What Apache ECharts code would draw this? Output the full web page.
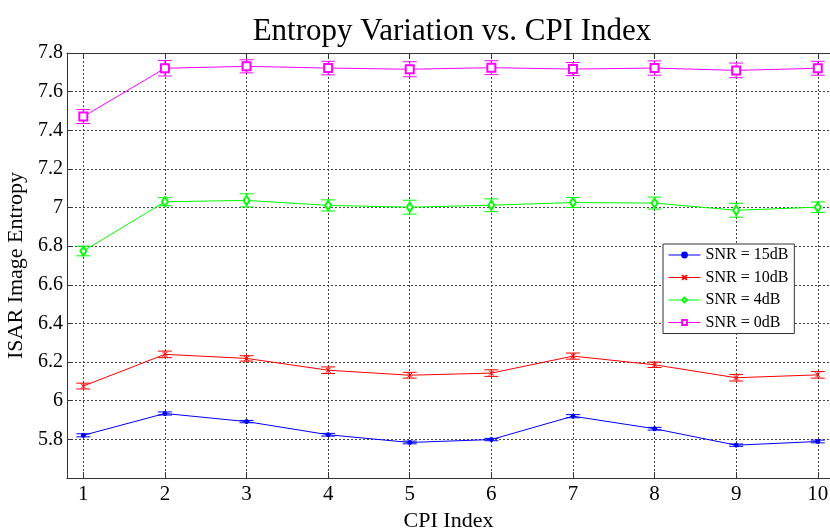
<!DOCTYPE html>
<html>
<head>
<meta charset="utf-8">
<script src="https://cdn.jsdelivr.net/npm/echarts@6/dist/echarts.min.js"></script>
<style>
  html, body { margin: 0; padding: 0; background: #fff; }
  #chart { width: 830px; height: 528px; }
</style>
</head>
<body>
<div id="chart"></div>
<script>
// CPI index on the x axis
const cpiIndex = [1, 2, 3, 4, 5, 6, 7, 8, 9, 10];
const xTickValues = [1, 2, 3, 4, 5, 6, 7, 8, 9, 10];

// Mean entropy and error half-width per SNR level
const snr15 = [5.821, 5.934, 5.892, 5.824, 5.784, 5.799, 5.920, 5.855, 5.770, 5.789];
const snr15Err = [0.008, 0.008, 0.006, 0.007, 0.007, 0.006, 0.008, 0.007, 0.006, 0.007];

const snr10 = [6.076, 6.240, 6.219, 6.158, 6.132, 6.143, 6.231, 6.186, 6.119, 6.134];
const snr10Err = [0.015, 0.017, 0.014, 0.017, 0.015, 0.017, 0.016, 0.014, 0.017, 0.017];

const snr4 = [6.775, 7.030, 7.037, 7.011, 7.002, 7.012, 7.026, 7.023, 6.986, 7.002];
const snr4Err = [0.025, 0.021, 0.034, 0.029, 0.036, 0.033, 0.026, 0.031, 0.036, 0.027];

const snr0 = [7.471, 7.721, 7.731, 7.722, 7.716, 7.724, 7.717, 7.722, 7.710, 7.721];
const snr0Err = [0.036, 0.040, 0.034, 0.035, 0.039, 0.036, 0.034, 0.037, 0.038, 0.036];

const seriesNames = ['SNR = 15dB', 'SNR = 10dB', 'SNR = 4dB', 'SNR = 0dB'];

const FONT = 'Liberation Serif, Times New Roman, serif';

const levels = [
  { name: seriesNames[0], mean: snr15, err: snr15Err, color: '#0000ff', symbol: 'circle', size: 4 },
  { name: seriesNames[1], mean: snr10, err: snr10Err, color: '#ff0000', symbol: 'path://M0,0L10,10M10,0L0,10', size: 5 },
  { name: seriesNames[2], mean: snr4, err: snr4Err, color: '#00ff00', symbol: 'emptyDiamond', size: [6, 9] },
  { name: seriesNames[3], mean: snr0, err: snr0Err, color: '#ff00ff', symbol: 'emptyRect', size: 8 }
];

const lineSeries = levels.map(l => ({
  type: 'line',
  name: l.name,
  data: cpiIndex.map((x, i) => [x, l.mean[i]]),
  symbol: l.symbol,
  symbolSize: l.size,
  showAllSymbol: true,
  lineStyle: { color: l.color, width: 1 },
  itemStyle: { color: l.color, borderColor: l.color, borderWidth: 1 },
  emphasis: { disabled: true },
  z: 3
}));

// Vertical error bars with horizontal caps
const CAP = 7;
const errorSeries = levels.map(l => ({
  type: 'custom',
  name: l.name,
  data: cpiIndex.map((x, i) => [x, l.mean[i] - l.err[i], l.mean[i] + l.err[i]]),
  encode: { x: 0, y: [1, 2] },
  renderItem: function (params, api) {
    const x = api.value(0);
    const lo = api.coord([x, api.value(1)]);
    const hi = api.coord([x, api.value(2)]);
    const style = { stroke: l.color, lineWidth: 1 };
    return {
      type: 'group',
      children: [
        { type: 'line', shape: { x1: lo[0], y1: lo[1], x2: hi[0], y2: hi[1] }, style: style },
        { type: 'line', shape: { x1: lo[0] - CAP, y1: lo[1], x2: lo[0] + CAP, y2: lo[1] }, style: style },
        { type: 'line', shape: { x1: hi[0] - CAP, y1: hi[1], x2: hi[0] + CAP, y2: hi[1] }, style: style }
      ]
    };
  },
  silent: true,
  z: 2
}));

const chart = echarts.init(document.getElementById('chart'), null, { renderer: 'canvas' });

chart.setOption({
  animation: false,
  backgroundColor: '#ffffff',
  title: {
    text: 'Entropy Variation vs. CPI Index',
    left: 447,
    textAlign: 'center',
    top: 11,
    textStyle: { fontFamily: FONT, fontSize: 31, fontWeight: 'normal', color: '#000' }
  },
  grid: {
    left: 67, right: 0, top: 53, bottom: 50,
    containLabel: false,
    outerBoundsMode: 'none',
    show: false
  },
  legend: {
    data: seriesNames,
    orient: 'vertical',
    left: 663,
    top: 244,
    padding: [3, 6, 3, 5],
    itemGap: 6.5,
    itemWidth: 32,
    itemHeight: 6,
    backgroundColor: '#fff',
    borderColor: '#333',
    borderWidth: 1,
    borderRadius: 0,
    lineStyle: { width: 1 },
    textStyle: { fontFamily: FONT, fontSize: 16, color: '#000' }
  },
  xAxis: [{
    type: 'value',
    min: 0.8,
    max: 10.15,
    name: 'CPI Index',
    nameLocation: 'middle',
    nameGap: 21,
    nameTextStyle: { fontFamily: FONT, fontSize: 22, color: '#000' },
    axisLine: { show: true, onZero: false, lineStyle: { color: '#333', width: 1 } },
    axisTick: { show: true, inside: true, length: 6, customValues: xTickValues, lineStyle: { color: '#333' } },
    axisLabel: { customValues: xTickValues, margin: 6, fontFamily: FONT, fontSize: 21, color: '#000' },
    splitLine: { show: true, lineStyle: { color: '#444', type: [2, 2], width: 1 } }
  }, {
    type: 'value',
    position: 'top',
    min: 0.8,
    max: 10.15,
    axisLine: { show: true, onZero: false, lineStyle: { color: '#333', width: 1 } },
    axisTick: { show: true, inside: true, length: 6, customValues: xTickValues, lineStyle: { color: '#333' } },
    axisLabel: { show: false },
    splitLine: { show: false }
  }],
  yAxis: {
    type: 'value',
    min: 5.6,
    max: 7.8,
    interval: 0.2,
    name: 'ISAR Image Entropy',
    nameLocation: 'middle',
    nameGap: 36,
    nameTextStyle: { fontFamily: FONT, fontSize: 22, color: '#000' },
    axisLine: { show: true, onZero: false, lineStyle: { color: '#333', width: 1 } },
    axisTick: { show: true, inside: true, length: 6, lineStyle: { color: '#333' } },
    axisLabel: {
      margin: 4,
      fontFamily: FONT, fontSize: 20, color: '#000',
      formatter: function (v) {
        const r = Math.round(v * 10) / 10;
        if (Math.abs(r - 5.6) < 1e-6) return '';
        return String(r);
      }
    },
    splitLine: { show: true, lineStyle: { color: '#444', type: [2, 2], width: 1 } }
  },
  series: lineSeries.concat(errorSeries)
});
</script>
</body>
</html>
